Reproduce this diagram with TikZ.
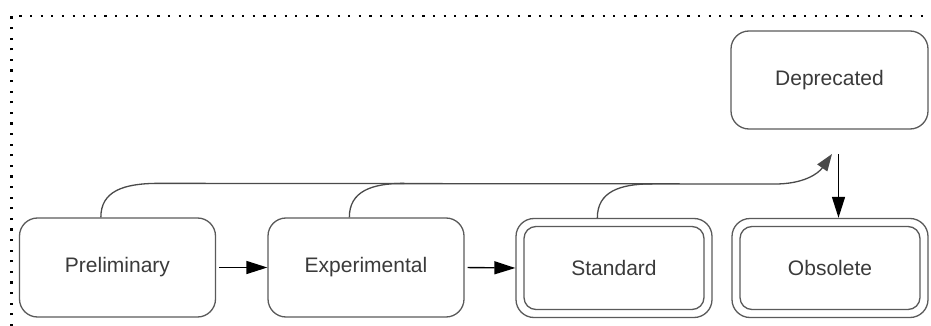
\documentclass[tikz,border=0pt]{standalone}
\usepackage{fontspec}
\setmainfont{Liberation Sans}
\usetikzlibrary{arrows.meta,calc}

\definecolor{edgegray}{HTML}{5A5A5A}
\definecolor{textgray}{HTML}{3A3A3A}
\definecolor{wiregray}{HTML}{4A4A4A}

\tikzset{
  state/.style={draw=edgegray, line width=1.3pt, rounded corners=18pt,
    minimum width=196pt, minimum height=99pt, inner sep=0pt,
    text=textgray, font=\fontsize{21}{25}\selectfont},
  innerstate/.style={draw=edgegray, line width=1.3pt, rounded corners=12pt,
    minimum width=180pt, minimum height=83pt, inner sep=0pt,
    text=textgray, font=\fontsize{21}{25}\selectfont},
  flow/.style={draw=black, line width=1.4pt,
    -{Triangle[length=21pt,width=13pt]}},
  wire/.style={draw=wiregray, line width=1.3pt},
  frame/.style={draw=black, line width=2.2pt, dash pattern=on 2.2pt off 8.4pt}
}

\begin{document}
\begin{tikzpicture}[x=1pt,y=-1pt]
  \useasboundingbox (0,0) rectangle (931,326);

  % dotted frame (its right and bottom sides lie outside the page)
  \draw[frame] (11.5,326) -- (11.5,16) -- (931,16);

  % states
  \node[state] (pre) at (117.5,267.5) {Preliminary};
  \node[state] (exp) at (366,267.5) {Experimental};
  \node[state] (std) at (614,268) {};
  \node[innerstate] (stdin) at (std.center) {Standard};
  \node[state] (obs) at (830,268) {};
  \node[innerstate] (obsin) at (obs.center) {Obsolete};
  \node[state, minimum width=197pt, minimum height=98pt] (dep) at (829.5,80) {Deprecated};

  % junction below Deprecated
  \coordinate (hubL) at (832,154);
  \coordinate (hubR) at (838.5,154);

  % forward transitions
  \draw[flow, shorten <=3pt] (pre.east) -- (exp.west);
  \draw[flow, shorten <=3pt] (exp.east) -- (std.west);

  % deprecation paths
  \coordinate (preT) at ($(pre.north west)+(82,0)$);
  \coordinate (expT) at ($(exp.north west)+(82,0)$);
  \coordinate (stdT) at ($(std.north west)+(82,0)$);
  \draw[wire, -{Triangle[length=17pt,width=12pt]}]
    (preT) .. controls ($(preT)+(0,-26)$) and ($(preT)+(22,-34)$) .. ($(preT)+(58,-34)$)
    -- (775,184) .. controls (803,184) and (818,174) .. (hubL);
  \draw[wire] (expT) .. controls ($(expT)+(0,-26)$) and ($(expT)+(22,-34)$) .. ($(expT)+(55,-34)$);
  \draw[wire] (stdT) .. controls ($(stdT)+(0,-26)$) and ($(stdT)+(22,-34)$) .. ($(stdT)+(55,-34)$);

  % Deprecated -> Obsolete
  \draw[flow] (hubR) -- (hubR |- obs.north);
\end{tikzpicture}
\end{document}
